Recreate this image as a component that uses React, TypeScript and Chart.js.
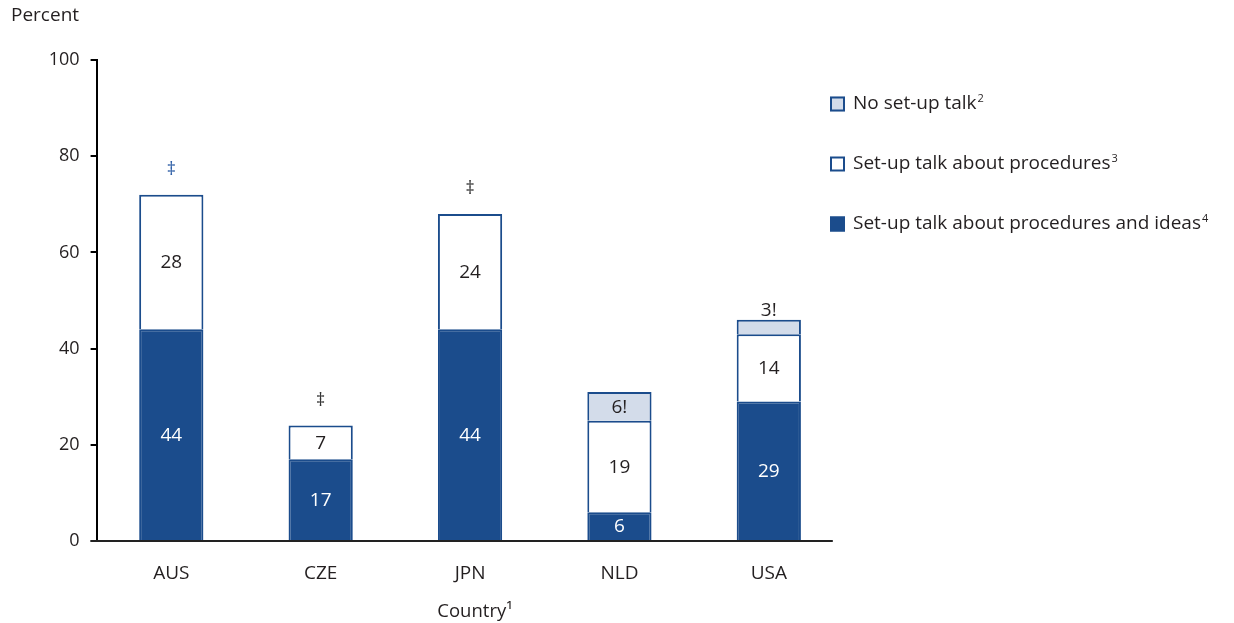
import React, { useEffect, useRef } from "react";
import { Chart, registerables } from "chart.js";

Chart.register(...registerables);

const countries = ["AUS", "CZE", "JPN", "NLD", "USA"];
const ideasValues = [44, 17, 44, 6, 29];
const proceduresValues = [28, 7, 24, 19, 14];
const noTalkValues: (number | null)[] = [null, null, null, 6, 3];

const ideasLabels = ["44", "17", "44", "6", "29"];
const proceduresLabels = ["28", "7", "24", "19", "14"];
const noTalkLabels = ["", "", "", "6!", "3!"];
const topMarks = ["‡", "‡", "‡", "", ""];
const topMarkColors = ["#2f5fa6", "#333333", "#333333", "#333333", "#333333"];

const yTicks = [0, 20, 40, 60, 80, 100];

const legendItems = [
  { label: "No set-up talk", sup: "2", fill: "#d3dcea", border: "#1b4c8c" },
  { label: "Set-up talk about procedures", sup: "3", fill: "#ffffff", border: "#1b4c8c" },
  { label: "Set-up talk about procedures and ideas", sup: "4", fill: "#1b4c8c", border: "#1b4c8c" },
];

const FONT = "'Open Sans', 'Noto Sans', sans-serif";
const TEXT = "#231f20";
const DARK = "#1b4c8c";
const LIGHT = "#d3dcea";

const overlayPlugin = {
  id: "overlay",
  afterDatasetsDraw(chart: any) {
    const ctx = chart.ctx;
    const area = chart.chartArea;
    const yScale = chart.scales.y;
    const xScale = chart.scales.x;
    ctx.save();
    // baseline
    const y0 = yScale.getPixelForValue(0);
    ctx.strokeStyle = "#222";
    ctx.lineWidth = 2;
    ctx.beginPath();
    ctx.moveTo(area.left - 6, y0);
    ctx.lineTo(xScale.getPixelForValue(countries.length - 1) + 64, y0);
    ctx.stroke();

    ctx.textAlign = "center";
    ctx.textBaseline = "middle";
    ctx.font = `19px ${FONT}`;
    const labelSets = [ideasLabels, proceduresLabels, noTalkLabels];
    const colors = ["#ffffff", TEXT, TEXT];
    labelSets.forEach((labels, di) => {
      const meta = chart.getDatasetMeta(di);
      meta.data.forEach((el: any, i: number) => {
        const txt = labels[i];
        if (!txt) return;
        const h = Math.abs(el.base - el.y);
        let cy = (el.y + el.base) / 2;
        if (h < 20) cy = el.y - 10;
        ctx.fillStyle = colors[di];
        ctx.fillText(txt, el.x, cy + 1);
      });
    });
    // top marks
    const lastMeta = [0, 1, 2].map((d) => chart.getDatasetMeta(d));
    countries.forEach((_, i) => {
      if (!topMarks[i]) return;
      let topY = Infinity;
      let x = 0;
      lastMeta.forEach((m: any) => {
        const el = m.data[i];
        if (el && el.y != null && !isNaN(el.y)) {
          topY = Math.min(topY, el.y);
          x = el.x;
        }
      });
      ctx.fillStyle = topMarkColors[i];
      ctx.font = `18px ${FONT}`;
      ctx.fillText(topMarks[i], x, topY - 25);
    });

    // axis titles
    ctx.fillStyle = TEXT;
    ctx.textAlign = "left";
    ctx.font = `19px ${FONT}`;
    ctx.fillText("Percent", 11, 16);
    ctx.textAlign = "center";
    ctx.font = `18.5px ${FONT}`;
    ctx.fillText("Country¹", 475, 612);

    // legend
    ctx.textAlign = "left";
    legendItems.forEach((it, i) => {
      const cy = 104 + i * 60;
      ctx.fillStyle = it.fill;
      ctx.fillRect(830, cy - 7.5, 15, 15);
      ctx.strokeStyle = it.border;
      ctx.lineWidth = 2;
      ctx.strokeRect(831, cy - 6.5, 13, 13);
      ctx.fillStyle = TEXT;
      ctx.font = `19px ${FONT}`;
      ctx.fillText(it.label, 853, cy);
      const w = ctx.measureText(it.label).width;
      ctx.font = `11px ${FONT}`;
      ctx.fillText(it.sup, 853 + w + 1, cy - 5);
    });
    ctx.restore();
  },
};

export default function App() {
  const ref = useRef<HTMLCanvasElement | null>(null);
  useEffect(() => {
    if (!ref.current) return;
    const chart = new Chart(ref.current, {
      type: "bar",
      data: {
        labels: countries,
        datasets: [
          {
            label: "Set-up talk about procedures and ideas",
            data: ideasValues,
            backgroundColor: DARK,
            borderColor: DARK,
            borderWidth: 2,
          },
          {
            label: "Set-up talk about procedures",
            data: proceduresValues,
            backgroundColor: "#ffffff",
            borderColor: DARK,
            borderWidth: 2,
          },
          {
            label: "No set-up talk",
            data: noTalkValues,
            backgroundColor: LIGHT,
            borderColor: DARK,
            borderWidth: 2,
          },
        ],
      },
      options: {
        animation: false,
        responsive: true,
        maintainAspectRatio: false,
        layout: { padding: { left: 0, top: 60, right: 390.5, bottom: 0 } },
        datasets: { bar: { barPercentage: 1, categoryPercentage: 0.43 } },
        plugins: { legend: { display: false }, tooltip: { enabled: false } },
        scales: {
          x: {
            stacked: true,
            grid: { display: false },
            border: { display: false },
            ticks: { color: TEXT, font: { family: FONT, size: 19 }, padding: 13 },
            afterFit: (s: any) => {
              s.height = 82;
            },
          },
          y: {
            stacked: true,
            min: 0,
            max: 100,
            afterBuildTicks: (s: any) => {
              s.ticks = yTicks.map((v) => ({ value: v }));
            },
            grid: { drawOnChartArea: false, drawTicks: true, tickLength: 6, color: "#000", lineWidth: 2 },
            border: { display: true, color: "#000", width: 2 },
            ticks: { color: TEXT, font: { family: FONT, size: 18 }, padding: 11 },
            afterFit: (s: any) => {
              s.width = 96.6;
            },
          },
        },
      },
      plugins: [overlayPlugin],
    });
    return () => chart.destroy();
  }, []);
  return (
    <div style={{ position: "fixed", left: 0, top: 0, width: 1234, height: 623, background: "#fff" }}>
      <canvas ref={ref} />
    </div>
  );
}
